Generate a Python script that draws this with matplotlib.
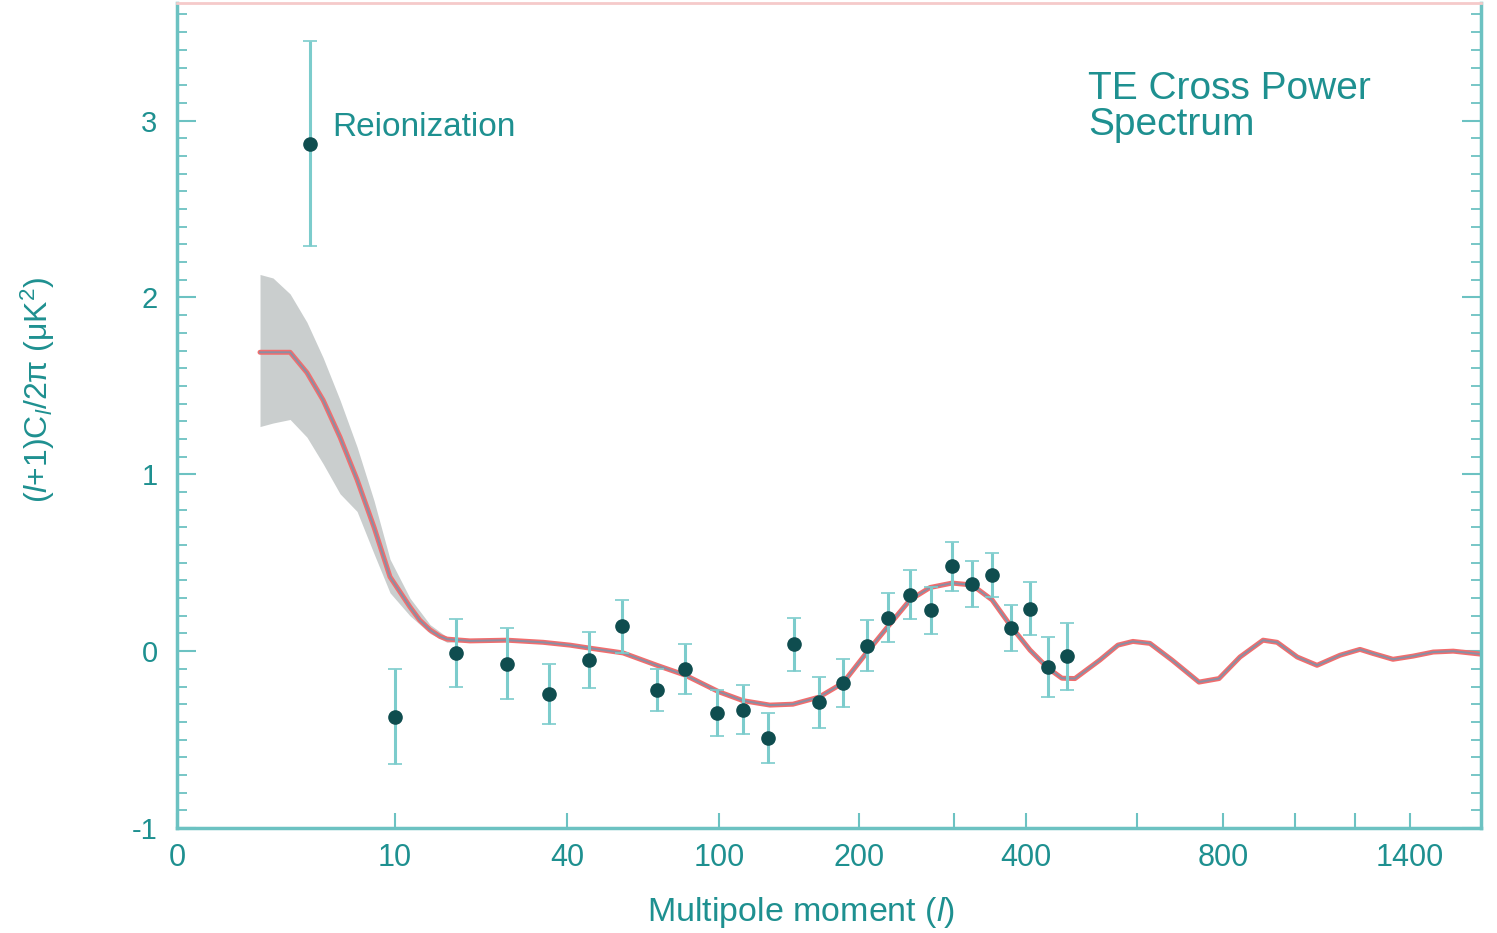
import numpy as np
import matplotlib.pyplot as plt
from matplotlib.ticker import MultipleLocator, NullLocator

plt.rcParams['font.family'] = ['Liberation Sans', 'DejaVu Sans']
plt.rcParams['mathtext.fontset'] = 'custom'
plt.rcParams['mathtext.rm'] = 'Liberation Sans'
plt.rcParams['mathtext.it'] = 'Liberation Sans:italic'
plt.rcParams['axes.unicode_minus'] = False

# binned TE cross power (multipole, value, 1-sigma error), uK^2
ell = [4.4, 10.0, 18.8, 27.8, 36.1, 47.3, 59.2, 72.9, 84.7, 99.1, 115.2, 131.9, 150.2,
       168.7, 187.2, 207.8, 228.8, 251.7, 274.4, 297.8, 324.0, 351.4, 378.3, 406.6,
       437.0, 470.0]
te = [2.87, -0.37, -0.01, -0.07, -0.24, -0.05, 0.14, -0.22, -0.10, -0.35, -0.33, -0.49,
      0.04, -0.29, -0.18, 0.03, 0.19, 0.32, 0.23, 0.48, 0.38, 0.43, 0.13, 0.24, -0.09,
      -0.03]
te_err = [0.58, 0.27, 0.19, 0.20, 0.17, 0.16, 0.15, 0.12, 0.14, 0.13, 0.14, 0.14, 0.15,
          0.145, 0.135, 0.145, 0.14, 0.14, 0.135, 0.14, 0.13, 0.125, 0.13, 0.15, 0.17, 0.19]

# best fit model with reionization
model_l = [2.0, 3.35, 4.22, 5.13, 6.16, 7.27, 8.45, 9.62, 11.95, 13.3, 14.78, 16.28, 17.36,
           21.1, 27.75, 34.9, 40.97, 47.6, 59.6, 72.9, 84.7, 100, 115.2, 133.2, 149.4,
           168.7, 187.2, 207.8, 228.8, 251.7, 273.3, 297.8, 324.0, 351.4, 378.3, 406.6,
           437.0, 461.2, 484.1, 529.6, 563.3, 592.0, 628.6, 678.5, 741.9, 790.3, 845.7,
           909.1, 948.6, 1006.9, 1071.6, 1148.7, 1217.5, 1263.8, 1336.5, 1408.4, 1464.2,
           1520.4, 1600]
model_te = [1.69, 1.69, 1.575, 1.42, 1.21, 0.97, 0.70, 0.42, 0.25, 0.175, 0.12, 0.083,
            0.068, 0.058, 0.062, 0.05, 0.034, 0.017, -0.01, -0.08, -0.135, -0.23, -0.28,
            -0.305, -0.30, -0.26, -0.18, -0.006, 0.14, 0.29, 0.36, 0.385, 0.374, 0.29,
            0.14, 0.006, -0.096, -0.153, -0.155, -0.05, 0.034, 0.055, 0.044, -0.05,
            -0.175, -0.155, -0.033, 0.062, 0.05, -0.033, -0.08, -0.023, 0.01, -0.013,
            -0.046, -0.028, -0.005, 0.0, -0.017]

# cosmic variance band at low l
band_l = [2.0, 2.55, 3.35, 4.22, 5.13, 6.16, 7.27, 8.45, 9.62, 11.95, 14.78, 17.36, 21.1]
band_hi = [2.13, 2.11, 2.02, 1.86, 1.66, 1.42, 1.155, 0.85, 0.52, 0.30, 0.15, 0.08, 0.06]
band_lo = [1.27, 1.29, 1.31, 1.21, 1.06, 0.89, 0.79, 0.55, 0.33, 0.20, 0.10, 0.05, 0.055]

# stretched multipole axis: tick values and where they sit along the axis
tick_l = np.array([0, 10, 40, 100, 200, 300, 400, 600, 800, 1000, 1200, 1400, 1600])
tick_frac = np.array([0, 0.1672, 0.2991, 0.4156, 0.5230, 0.5959, 0.6511, 0.7362,
                      0.8021, 0.8574, 0.9034, 0.9456, 1.0])
labelled = [0, 10, 40, 100, 200, 400, 800, 1400]

knot_u = tick_l ** 0.6


def fwd(l):
    l = np.clip(np.asarray(l, dtype=float), 0, None)
    return np.interp(l ** 0.6, knot_u, tick_frac)


def inv(v):
    return np.interp(np.asarray(v, dtype=float), tick_frac, knot_u) ** (1 / 0.6)


teal = '#1e9090'
spine_col = '#6cc2c2'

fig = plt.figure(figsize=(14.97, 9.33), dpi=100)
ax = fig.add_axes([177 / 1497, 105 / 933, 1304 / 1497, 825 / 933])
ax.set_xscale('function', functions=(fwd, inv))
ax.set_xlim(0, 1600)
ax.set_ylim(-1, 3.665)

ax.fill_between(band_l, band_lo, band_hi, color='#cacece', lw=0, zorder=1)
ax.plot(model_l, model_te, color='#f26d6d', lw=3.6, solid_capstyle='round',
        solid_joinstyle='round', zorder=2)
ax.plot(model_l, model_te, color='#8a8fa3', lw=1.4, solid_joinstyle='round', zorder=2)
ax.errorbar(ell, te, yerr=te_err, fmt='o', ms=9.5, mfc='#0f4d4f', mec='#0f4d4f',
            ecolor='#7ccccc', elinewidth=2.2, capsize=5, capthick=1.2, zorder=3)

ax.set_xticks(tick_l[:-1])
ax.set_xticklabels([str(v) if v in labelled else '' for v in tick_l[:-1]])
ax.xaxis.set_minor_locator(NullLocator())
ax.yaxis.set_major_locator(MultipleLocator(1))
ax.yaxis.set_minor_locator(MultipleLocator(0.1))

ax.tick_params(axis='x', direction='in', length=11, width=1.5, color=spine_col,
               labelsize=22, labelcolor=teal, pad=11, top=False)
ax.tick_params(axis='y', which='major', direction='in', length=14, width=1.5,
               color=spine_col, right=True, labelsize=21, labelcolor=teal, pad=14)
ax.tick_params(axis='y', which='minor', direction='in', length=7, width=1.3,
               color=spine_col, right=True)

for side in ['left', 'bottom', 'right']:
    ax.spines[side].set_color(spine_col)
    ax.spines[side].set_linewidth(2.5)
ax.spines['top'].set_color('#f5caca')
ax.spines['top'].set_linewidth(2)

ax.text(5.66, 2.96, 'Reionization', fontsize=24, color=teal, ha='left', va='center')
ax.text(0.6986, 0.874, 'TE Cross Power\nSpectrum', transform=ax.transAxes, fontsize=28,
        color=teal, ha='left', va='center', linespacing=0.97)

fig.text(801 / 1497, 1 - 913 / 933, r'Multipole moment ($\mathit{l}$)', fontsize=24.5,
         color=teal, ha='center', va='center')
fig.text(38 / 1497, 1 - 390 / 933,
         r'($\mathit{l}$+1)C$_\mathit{l}$/2π (μK$^2$)', fontsize=23, color=teal,
         rotation=90, ha='center', va='center')

fig.savefig('out.png', dpi=100)
